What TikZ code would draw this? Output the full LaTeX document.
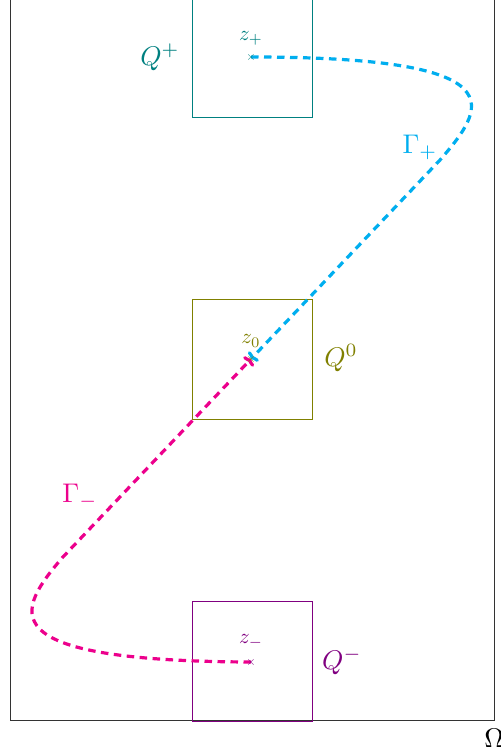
\documentclass[tikz,border=0pt]{standalone}
\usepackage{graphicx}
\usetikzlibrary{arrows.meta}
\definecolor{cyc}{RGB}{0,174,239}
\definecolor{mgc}{RGB}{236,0,140}
\definecolor{tlc}{RGB}{0,128,128}
\definecolor{olc}{RGB}{128,128,0}
\definecolor{puc}{RGB}{128,0,128}
\newcommand{\bigmath}[1]{\scalebox{2.7}{$#1$}}
\newcommand{\midmath}[1]{\scalebox{2.1}{$#1$}}
\tikzset{
  boxq/.style={draw, line width=0.8pt, minimum width=120pt, minimum height=120pt, inner sep=0pt},
  curvepath/.style={line width=3.2pt, dash pattern=on 7.5pt off 5.5pt, -{To[length=5pt,width=14pt]}},
  qlabel/.style={inner sep=0pt},
  zlabel/.style={inner sep=0pt},
  xmark/.style={font=\fontsize{12}{12}\selectfont, inner sep=0pt}
}
\begin{document}
\begin{tikzpicture}[x=1pt,y=-1pt]
\useasboundingbox (0,0) rectangle (501,756);
% outer domain
\node[draw=black!80, line width=0.7pt, minimum width=484pt, minimum height=741pt, inner sep=0pt, anchor=south west] (omega) at (10,721) {};
\node[qlabel, anchor=north] (omegalab) at (494,729) {\bigmath{\Omega}};
% squares
\node[boxq, draw=tlc] (qp) at (252,57) {};
\node[boxq, draw=olc] (q0) at (252,359.5) {};
\node[boxq, draw=puc] (qm) at (252,661) {};
% points
\coordinate (zp) at (251,57);
\coordinate (z0) at (251,359);
\coordinate (zm) at (251,662);
\coordinate (bendp) at (440,160);
\coordinate (bendm) at (62,558);
% curves
\draw[curvepath, cyc] (zp) .. controls (522,57) and (485,108) .. (bendp) -- (z0);
\draw[curvepath, mgc] (zm) .. controls (-16,661) and (18,610) .. (bendm) -- (z0);
% marks
\node[xmark, text=tlc] (mp) at (zp) {$\times$};
\node[xmark, text=olc] (m0) at (z0) {$\times$};
\node[xmark, text=puc] (mm) at (zm) {$\times$};
% labels
\node[zlabel, text=tlc] (lzp) at (251,38) {\midmath{z_+}};
\node[zlabel, text=olc] (lz0) at (251,341) {\midmath{z_0}};
\node[zlabel, text=puc] (lzm) at (251,641) {\midmath{z_-}};
\node[qlabel, text=tlc] (lqp) at (160,57) {\bigmath{Q^+}};
\node[qlabel, text=olc] (lq0) at (341,358) {\bigmath{Q^0}};
\node[qlabel, text=puc] (lqm) at (342,661) {\bigmath{Q^-}};
\node[qlabel, text=cyc] (lgp) at (420,147) {\bigmath{\Gamma_+}};
\node[qlabel, text=mgc] (lgm) at (80,496) {\bigmath{\Gamma_-}};
\end{tikzpicture}
\end{document}
